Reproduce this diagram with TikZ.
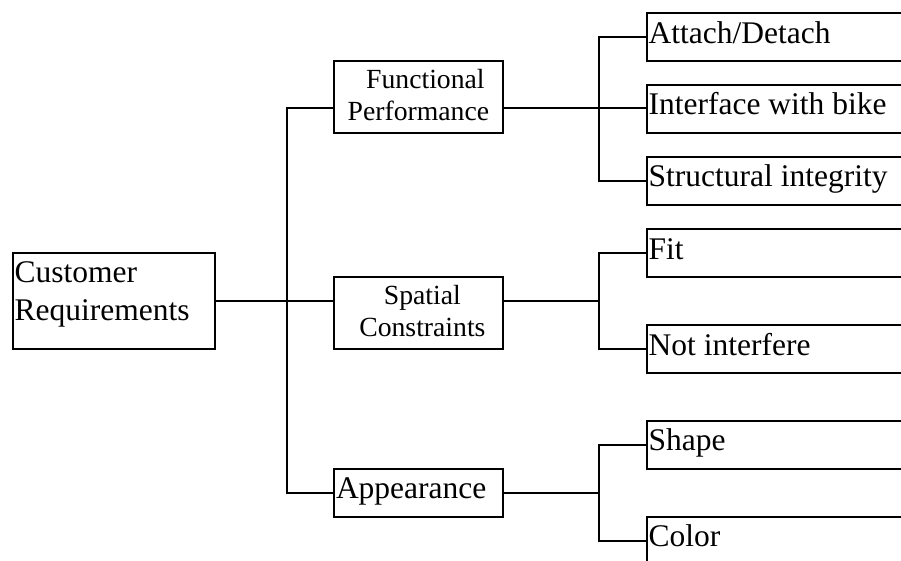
\documentclass[tikz,border=0pt]{standalone}
\usepackage{fontspec}
\setmainfont{Liberation Serif}
% one line of text, left aligned in a box of the given width
\newcommand\rowL[2]{\hbox to #1{\kern2pt #2\hss}}
% one line of text, centred in a box of the given width, shifted right by half of #2
\newcommand\rowC[3]{\hbox to #1{\hss\kern#2 #3\hss}}
\begin{document}
\begin{tikzpicture}[x=1pt,y=-1pt,
  line width=2pt,
  box/.style={draw, line width=2pt, inner sep=0pt, anchor=north west, outer sep=0pt},
  big/.style={font=\fontsize{31.5}{38}\selectfont},
  small/.style={font=\fontsize{27.7}{32}\selectfont},
  leaf/.style={box, big, text height=30pt, text depth=18pt}]
\useasboundingbox (0,0) rectangle (901,561);
\clip (0,0) rectangle (901,561);

% root
\node[box, big, text height=29.8pt, text depth=66.8pt] (cust) at (12.7,252.7)
  {\vtop{\baselineskip=38pt \rowL{202.3pt}{Customer}\rowL{202.3pt}{Requirements}}};

% second level
\node[box, small, text height=27pt, text depth=45pt] (func) at (334,61.3)
  {\vtop{\baselineskip=32pt \rowC{168.8pt}{14pt}{Functional}\rowC{168.8pt}{0pt}{Performance}}};
\node[box, small, text height=26.7pt, text depth=45.3pt] (spat) at (334,277.3)
  {\vtop{\baselineskip=32.5pt \rowC{168.8pt}{8pt}{Spatial}\rowC{168.8pt}{8pt}{Constraints}}};
\node[box, big, text height=29.3pt, text depth=18.7pt] (appr) at (334,469)
  {\rowL{168.8pt}{Appearance}};

% leaves (running past the right and bottom edges)
\node[leaf] (attach) at (646.7,13.3)  {\rowL{273.3pt}{Attach/Detach}};
\node[leaf] (inter)  at (646.7,85)    {\rowL{273.3pt}{Interface with bike}};
\node[leaf] (struct) at (646.7,156.7) {\rowL{273.3pt}{Structural integrity}};
\node[leaf] (fit)    at (646.7,229)   {\rowL{273.3pt}{Fit}};
\node[leaf] (notint) at (646.7,325)   {\rowL{273.3pt}{Not interfere}};
\node[leaf] (shape)  at (646.7,420.7) {\rowL{273.3pt}{Shape}};
\node[leaf] (color)  at (646.7,516.7) {\rowL{273.3pt}{Color}};

% vertical trunks
\coordinate (trunk) at (286.7,0);
\coordinate (fork)  at (599,0);
\coordinate (fl) at ([yshift=-11pt]func.west);
\coordinate (fr) at ([yshift=-11pt]func.east);
\coordinate (sr) at (cust.east -| spat.east);

% root to second level
\draw (cust.east) -- (cust.east -| spat.west);
\draw (fl) -| (trunk |- appr.west) -- (appr.west);

% Functional Performance
\draw (fr) -- (fr -| inter.west);
\draw (attach.west) -| (fork |- struct.west) -- (struct.west);

% Spatial Constraints
\draw (sr) -- (sr -| fork);
\draw (fit.west) -| (fork |- notint.west) -- (notint.west);

% Appearance
\draw (appr.east) -- (appr.east -| fork);
\draw (shape.west) -| (fork |- color.west) -- (color.west);
\end{tikzpicture}
\end{document}
